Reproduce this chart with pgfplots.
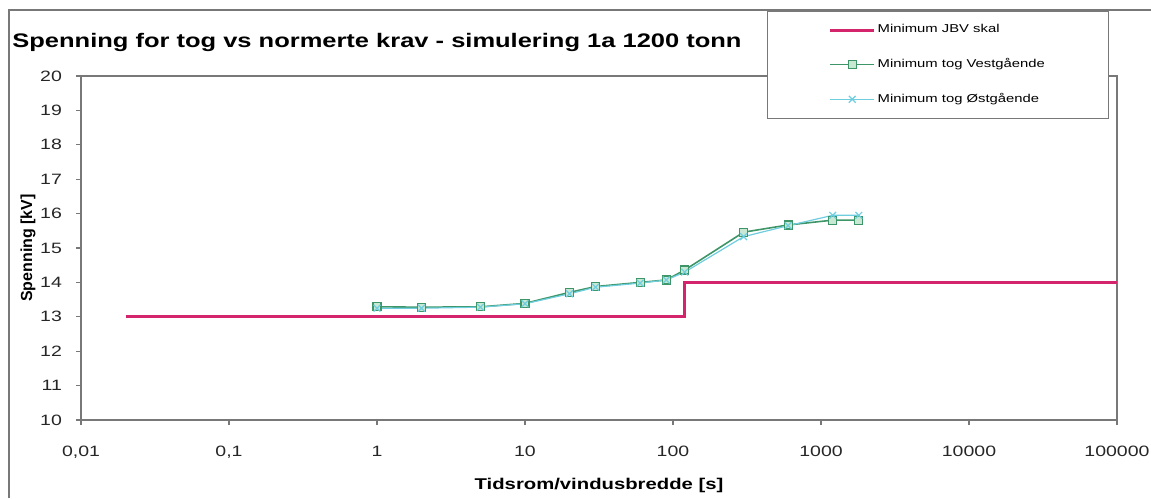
\documentclass[border=0pt]{standalone}
\usepackage{pgfplots}
\pgfplotsset{compat=1.18}
\usepackage{fontspec}
\setmainfont[FakeStretch=1.3]{Liberation Sans}
\newfontfamily\plainsans{Liberation Sans}

\definecolor{jbv}{RGB}{212,36,108}
\definecolor{vest}{RGB}{62,150,104}
\definecolor{vestfill}{RGB}{200,232,212}
\definecolor{ost}{RGB}{110,205,222}
\definecolor{frame}{RGB}{120,120,120}

\begin{document}
\begin{tikzpicture}
% page frame: 1 px = 0.5 pt, origin at top left
\useasboundingbox (0,0) rectangle (575.5pt,-249pt);
\draw[frame, line width=0.6pt] (4.5pt,-249pt) -- (4.5pt,-5pt) -- (575.5pt,-5pt);

\node[anchor=base west, font=\fontsize{9.8}{11}\selectfont\bfseries, inner sep=0pt]
  at (6pt,-23.5pt) {Spenning for tog vs normerte krav - simulering 1a 1200 tonn};

\begin{axis}[
  at={(40.5pt,-210pt)}, anchor=south west,
  width=518pt, height=172pt, scale only axis,
  xmode=log, xmin=0.01, xmax=100000,
  ymin=10, ymax=20, ytick={10,11,...,20},
  xtick={0.01,0.1,1,10,100,1000,10000,100000},
  xticklabels={{\mbox{0,01}},{\mbox{0,1}},\mbox{1},\mbox{10},\mbox{100},\mbox{1000},\mbox{10000},\mbox{100000}},
  xminorticks=false,
  tick pos=left, tick align=outside,
  major tick length=2.5pt,
  axis line style={frame, line width=0.6pt},
  tick style={frame, line width=0.6pt},
  /pgf/number format/assume math mode=true,
  ticklabel style={font=\fontsize{7.5}{8.5}\selectfont, text=black!85},
  xticklabel style={yshift=-7pt},
  yticklabel style={xshift=-3.5pt},
  xlabel={Tidsrom/vindusbredde [s]},
  ylabel={Spenning [kV]},
  xlabel style={font=\fontsize{7.8}{9}\selectfont\bfseries,
    at={(axis description cs:0.5,-0.189)}, anchor=center},
  ylabel style={font=\plainsans\fontsize{8}{9}\selectfont\bfseries,
    at={(axis description cs:-0.0512,0.5)}, anchor=center, rotate=0},
  legend cell align=left,
  legend style={
    at={(0.662,1.189)}, anchor=north west,
    draw=frame, fill=white, line width=0.5pt,
    font=\fontsize{5.7}{6.5}\selectfont,
    minimum width=170.5pt, minimum height=53.5pt,
    nodes={minimum width=0pt, minimum height=0pt, inner sep=1pt},
    row sep=9.3pt,
  },
  legend image code/.code={
    \draw[mark repeat=2, mark phase=2, #1] plot coordinates {(0pt,0pt) (11pt,0pt) (22pt,0pt)};
  },
]
% JBV minimum requirement (step at 120 s)
\addplot[jbv, line width=1.5pt, mark=none] coordinates {
  (0.02,13) (120,13) (120,14) (100000,14)
};
\addlegendentry{Minimum JBV skal}

% westbound trains
\addplot[vest, line width=0.8pt, mark=square*, mark size=2pt,
  mark options={fill=vestfill, draw=vest, line width=0.6pt}] coordinates {
  (1,13.29) (2,13.28) (5,13.29) (10,13.39) (20,13.71) (30,13.88)
  (60,14.00) (90,14.07) (120,14.36) (300,15.46) (600,15.67)
  (1200,15.81) (1800,15.81)
};
\addlegendentry{Minimum tog Vestgående}

% eastbound trains
\addplot[ost, line width=0.6pt, mark=x, mark size=2.4pt,
  mark options={line width=0.6pt}] coordinates {
  (1,13.25) (2,13.25) (5,13.28) (10,13.38) (20,13.67) (30,13.86)
  (60,13.98) (90,14.07) (120,14.30) (300,15.33) (600,15.65)
  (1200,15.95) (1800,15.95)
};
\addlegendentry{Minimum tog Østgående}
\end{axis}
\end{tikzpicture}
\end{document}
